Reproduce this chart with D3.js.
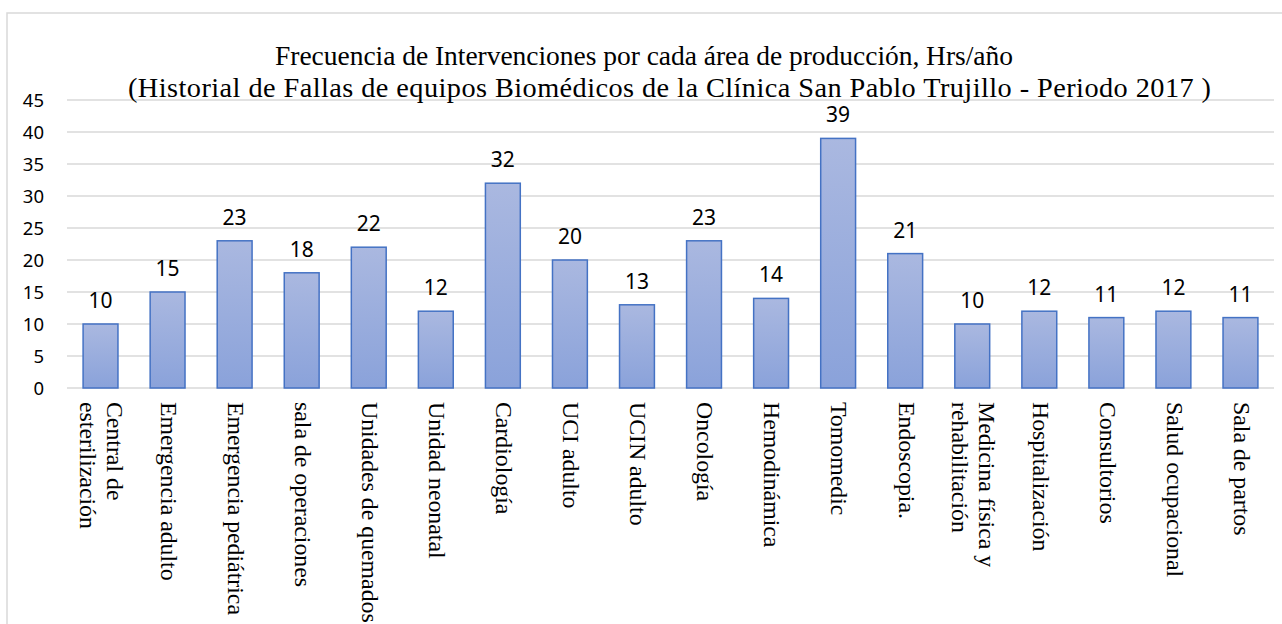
<!DOCTYPE html>
<html>
<head>
<meta charset="utf-8">
<script src="https://cdn.jsdelivr.net/npm/d3@7"></script>
<style>
  html, body { margin: 0; padding: 0; background: #fff; overflow: hidden; }
  .tick-label { font-family: "Noto Sans", "Open Sans", sans-serif; font-size: 18.5px; fill: #000; }
  .value-label { font-family: "Noto Sans", "Open Sans", sans-serif; font-size: 21px; fill: #000; }
  .cat-label { font-family: "Liberation Serif", "Times New Roman", serif; font-size: 23.8px; fill: #000; }
  .title { font-family: "Liberation Serif", "Times New Roman", serif; fill: #000; }
</style>
</head>
<body>
<svg id="chart" width="1282" height="624"></svg>
<script>
  'use strict';

  // chart data
  var categories = [
    ['Central de', 'esterilización'],
    ['Emergencia adulto'],
    ['Emergencia pediátrica'],
    ['sala de operaciones'],
    ['Unidades de quemados'],
    ['Unidad neonatal'],
    ['Cardiología'],
    ['UCI adulto'],
    ['UCIN adulto'],
    ['Oncología'],
    ['Hemodinámica'],
    ['Tomomedic'],
    ['Endoscopia.'],
    ['Medicina física y', 'rehabilitación'],
    ['Hospitalización'],
    ['Consultorios'],
    ['Salud ocupacional'],
    ['Sala de partos']
  ];
  var values = [10, 15, 23, 18, 22, 12, 32, 20, 13, 23, 14, 39, 21, 10, 12, 11, 12, 11];
  var yTicks = [0, 5, 10, 15, 20, 25, 30, 35, 40, 45];
  var titleLines = [
    'Frecuencia de Intervenciones por cada área de producción, Hrs/año',
    '(Historial de Fallas de equipos Biomédicos de la Clínica San Pablo Trujillo - Periodo 2017 )'
  ];

  var svg = d3.select('#chart');
  var plot = { left: 67, right: 1274, top: 100, bottom: 388 };

  // outer chart frame (runs past the right and bottom edges of the window)
  svg.append('rect')
    .attr('x', 7).attr('y', 13)
    .attr('width', 1400).attr('height', 800)
    .attr('fill', '#fff')
    .attr('stroke', '#d9d9d9')
    .attr('stroke-width', 1.5);

  var x = d3.scaleBand()
    .domain(d3.range(values.length))
    .range([plot.left, plot.right])
    .paddingInner(0.48)
    .paddingOuter(0.24);

  var y = d3.scaleLinear()
    .domain([0, 45])
    .range([plot.bottom, plot.top]);

  // gradient fill for the bars
  var grad = svg.append('defs').append('linearGradient')
    .attr('id', 'barFill')
    .attr('x1', 0).attr('y1', 0).attr('x2', 0).attr('y2', 1);
  grad.append('stop').attr('offset', '0%').attr('stop-color', '#aab8e0');
  grad.append('stop').attr('offset', '100%').attr('stop-color', '#8aa2da');

  // horizontal grid
  svg.append('g')
    .selectAll('line')
    .data(yTicks)
    .join('line')
    .attr('x1', plot.left)
    .attr('x2', plot.right)
    .attr('y1', function(d) { return y(d); })
    .attr('y2', function(d) { return y(d); })
    .attr('stroke', '#d9d9d9')
    .attr('stroke-width', 1.5);

  // y tick labels
  svg.append('g')
    .selectAll('text')
    .data(yTicks)
    .join('text')
    .attr('class', 'tick-label')
    .attr('x', 44)
    .attr('y', function(d) { return y(d); })
    .attr('dy', '0.36em')
    .style('text-anchor', 'end')
    .text(function(d) { return d; });

  // title: each line has its own start and width, as in the source chart
  var titleLayout = [
    { x: 275, y: 65, size: 27.5, len: 738 },
    { x: 128, y: 97, size: 28.3, len: 1083 }
  ];
  svg.append('g')
    .selectAll('text')
    .data(titleLines)
    .join('text')
    .attr('class', 'title')
    .attr('x', function(d, i) { return titleLayout[i].x; })
    .attr('y', function(d, i) { return titleLayout[i].y; })
    .attr('font-size', function(d, i) { return titleLayout[i].size + 'px'; })
    .attr('textLength', function(d, i) { return titleLayout[i].len; })
    .attr('lengthAdjust', 'spacing')
    .text(function(d) { return d; });

  // bars
  svg.append('g')
    .selectAll('rect')
    .data(values)
    .join('rect')
    .attr('x', function(d, i) { return x(i); })
    .attr('y', function(d) { return y(d); })
    .attr('width', x.bandwidth())
    .attr('height', function(d) { return plot.bottom - y(d); })
    .attr('fill', 'url(#barFill)')
    .attr('stroke', '#4472c4')
    .attr('stroke-width', 1.5);

  // value labels above the bars
  svg.append('g')
    .selectAll('text')
    .data(values)
    .join('text')
    .attr('class', 'value-label')
    .attr('x', function(d, i) { return x(i) + x.bandwidth() / 2; })
    .attr('y', function(d) { return y(d) - 23.5; })
    .attr('dy', '0.36em')
    .style('text-anchor', 'middle')
    .text(function(d) { return d; });

  // rotated category labels, reading top to bottom
  var catLineHeight = 27;
  var cats = svg.append('g')
    .selectAll('text')
    .data(categories)
    .join('text')
    .attr('class', 'cat-label')
    .attr('transform', function(d, i) {
      return 'translate(' + (x(i) + x.bandwidth() / 2) + ',' + (plot.bottom + 14) + ') rotate(90)';
    });

  cats.selectAll('tspan')
    .data(function(d) { return d; })
    .join('tspan')
    .attr('x', 0)
    .attr('y', function(d, i, nodes) {
      var n = nodes.length;
      return (i - (n - 1) / 2) * catLineHeight;
    })
    .attr('dy', '0.28em')
    .text(function(d) { return d; });
</script>
</body>
</html>
